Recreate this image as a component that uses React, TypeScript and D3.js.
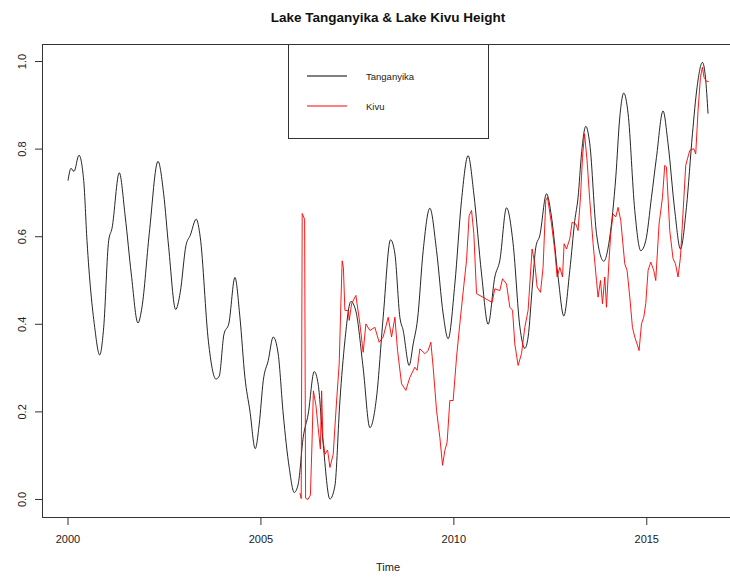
import React from "react";
import * as d3 from "d3";

// Lake Tanganyika (normalised height) — time in decimal years
const tangYears = [
  2000.0, 2000.078, 2000.155, 2000.285, 2000.407, 2000.492, 2000.692, 2000.821, 2000.925, 2001.054,
  2001.14, 2001.329, 2001.484, 2001.64, 2001.813, 2001.917, 2002.106, 2002.332, 2002.479, 2002.609,
  2002.79, 2002.909, 2003.057, 2003.168, 2003.324, 2003.427, 2003.64, 2003.834, 2003.92, 2004.041,
  2004.171, 2004.326, 2004.456, 2004.585, 2004.715, 2004.852, 2004.956, 2005.06, 2005.189, 2005.319,
  2005.448, 2005.578, 2005.733, 2005.863, 2005.966, 2006.096, 2006.225, 2006.381, 2006.484, 2006.614,
  2006.788, 2006.917, 2007.047, 2007.176, 2007.332, 2007.461, 2007.65, 2007.824, 2007.997, 2008.168,
  2008.36, 2008.472, 2008.601, 2008.687, 2008.842, 2008.946, 2009.06, 2009.205, 2009.378, 2009.552,
  2009.723, 2009.852, 2010.026, 2010.199, 2010.37, 2010.518, 2010.718, 2010.889, 2011.062, 2011.192,
  2011.365, 2011.536, 2011.71, 2011.839, 2011.925, 2012.039, 2012.124, 2012.228, 2012.402, 2012.531,
  2012.702, 2012.85, 2013.005, 2013.135, 2013.22, 2013.308, 2013.42, 2013.523, 2013.697, 2013.886,
  2014.041, 2014.197, 2014.301, 2014.404, 2014.516, 2014.689, 2014.845, 2014.974, 2015.122, 2015.251,
  2015.422, 2015.552, 2015.725, 2015.873, 2016.028, 2016.184, 2016.303, 2016.443, 2016.521, 2016.588,
];
const tangValues = [
  0.728, 0.756, 0.749, 0.786, 0.728, 0.591, 0.393, 0.33, 0.393, 0.591,
  0.619, 0.746, 0.645, 0.515, 0.403, 0.439, 0.607, 0.772, 0.698, 0.576,
  0.434, 0.473, 0.58, 0.603, 0.64, 0.599, 0.36, 0.275, 0.282, 0.377,
  0.403, 0.507, 0.416, 0.279, 0.202, 0.116, 0.172, 0.271, 0.317, 0.371,
  0.332, 0.195, 0.073, 0.016, 0.035, 0.142, 0.195, 0.292, 0.263, 0.126,
  0.001, 0.031, 0.225, 0.362, 0.452, 0.43, 0.3, 0.164, 0.234, 0.416,
  0.593, 0.561, 0.416, 0.386, 0.306, 0.355, 0.412, 0.568, 0.665, 0.568,
  0.424, 0.367, 0.492, 0.683, 0.785, 0.698, 0.515, 0.4, 0.508, 0.546,
  0.666, 0.584, 0.395, 0.345, 0.371, 0.492, 0.576, 0.603, 0.698, 0.645,
  0.508, 0.419, 0.523, 0.637, 0.69, 0.789, 0.852, 0.812, 0.607, 0.544,
  0.599, 0.736, 0.873, 0.928, 0.881, 0.66, 0.568, 0.591, 0.69, 0.781,
  0.887, 0.812, 0.66, 0.572, 0.667, 0.835, 0.941, 0.998, 0.964, 0.881,
];

// Lake Kivu (normalised height)
const kivuYears = [
  2006.01, 2006.044, 2006.07, 2006.132, 2006.158, 2006.218, 2006.282, 2006.321, 2006.36, 2006.425,
  2006.484, 2006.541, 2006.573, 2006.606, 2006.658, 2006.728, 2006.788, 2006.873, 2006.961, 2007.028,
  2007.073, 2007.106, 2007.137, 2007.176, 2007.262, 2007.288, 2007.35, 2007.461, 2007.565, 2007.65,
  2007.72, 2007.824, 2007.953, 2008.065, 2008.168, 2008.298, 2008.386, 2008.472, 2008.541, 2008.645,
  2008.756, 2008.86, 2008.99, 2009.049, 2009.119, 2009.249, 2009.334, 2009.404, 2009.464, 2009.552,
  2009.637, 2009.707, 2009.767, 2009.826, 2009.896, 2009.982, 2010.07, 2010.155, 2010.259, 2010.329,
  2010.396, 2010.459, 2010.518, 2010.588, 2010.992, 2011.062, 2011.192, 2011.262, 2011.365, 2011.451,
  2011.521, 2011.58, 2011.666, 2011.754, 2011.839, 2011.925, 2012.028, 2012.098, 2012.158, 2012.246,
  2012.313, 2012.383, 2012.427, 2012.531, 2012.617, 2012.676, 2012.746, 2012.816, 2012.858, 2012.92,
  2013.005, 2013.065, 2013.161, 2013.22, 2013.282, 2013.334, 2013.386, 2013.453, 2013.523, 2013.609,
  2013.697, 2013.738, 2013.801, 2013.852, 2013.912, 2013.956, 2014.016, 2014.067, 2014.127, 2014.197,
  2014.256, 2014.326, 2014.43, 2014.49, 2014.56, 2014.629, 2014.689, 2014.749, 2014.801, 2014.863,
  2014.922, 2014.974, 2015.034, 2015.104, 2015.181, 2015.233, 2015.319, 2015.407, 2015.466, 2015.51,
  2015.596, 2015.681, 2015.744, 2015.811, 2015.873, 2015.933, 2016.01, 2016.114, 2016.218, 2016.269,
  2016.329, 2016.391, 2016.443, 2016.484, 2016.547, 2016.606,
];
const kivuValues = [
  0.015, 0.002, 0.653, 0.64, 0.003, 0.0, 0.01, 0.12, 0.248, 0.215,
  0.164, 0.115, 0.248, 0.14, 0.103, 0.113, 0.073, 0.103, 0.225, 0.309,
  0.45, 0.545, 0.53, 0.432, 0.431, 0.409, 0.447, 0.466, 0.401, 0.336,
  0.401, 0.386, 0.393, 0.359, 0.371, 0.416, 0.371, 0.416, 0.34, 0.264,
  0.249, 0.279, 0.302, 0.295, 0.344, 0.333, 0.34, 0.359, 0.302, 0.203,
  0.142, 0.078, 0.112, 0.131, 0.226, 0.226, 0.325, 0.401, 0.489, 0.546,
  0.648, 0.66, 0.607, 0.47, 0.45, 0.481, 0.477, 0.504, 0.492, 0.439,
  0.432, 0.355, 0.306, 0.333, 0.393, 0.432, 0.572, 0.538, 0.485, 0.473,
  0.53, 0.683, 0.69, 0.629, 0.568, 0.508, 0.53, 0.508, 0.584, 0.572,
  0.595, 0.633, 0.629, 0.614, 0.69, 0.781, 0.835, 0.774, 0.683, 0.584,
  0.5, 0.462, 0.5, 0.447, 0.508, 0.439, 0.538, 0.607, 0.652, 0.645,
  0.667, 0.637, 0.538, 0.523, 0.462, 0.393, 0.371, 0.355, 0.34, 0.401,
  0.416, 0.447, 0.523, 0.542, 0.523, 0.5, 0.629, 0.69, 0.763, 0.759,
  0.614, 0.55, 0.538, 0.508, 0.553, 0.645, 0.763, 0.797, 0.801, 0.789,
  0.888, 0.964, 0.987, 0.964, 0.955, 0.954,
];

const xTicks = [2000, 2005, 2010, 2015];
const yTicks = [0.0, 0.2, 0.4, 0.6, 0.8, 1.0];
const seriesNames = ["Tanganyika", "Kivu"];
const seriesColors = ["#000000", "#ff0000"];

const W = 730;
const H = 577;
const FONT = "'Liberation Sans', Arial, Helvetica, sans-serif";

export default function App() {
  const x = d3.scaleLinear().domain([1999.326, 2017.52]).range([42, 744]);
  const y = d3.scaleLinear().domain([-0.04, 1.04]).range([517, 44]);

  const tang = tangYears.map((t, i) => [t, tangValues[i]] as [number, number]);
  const kivu = kivuYears.map((t, i) => [t, kivuValues[i]] as [number, number]);

  const smooth = d3
    .line<[number, number]>()
    .x((d) => x(d[0]))
    .y((d) => y(d[1]))
    .curve(d3.curveMonotoneX);
  const straight = d3
    .line<[number, number]>()
    .x((d) => x(d[0]))
    .y((d) => y(d[1]));

  const [x0, x1] = x.range();
  const [yb, yt] = y.range();
  const legendX0 = 288;
  const legendX1 = 488;
  const legendY1 = 138;
  const legendRows = [76, 106];

  return (
    <svg
      width={W}
      height={H}
      style={{ position: "absolute", left: 0, top: 0, background: "#fff" }}
      fontFamily={FONT}
    >
      <rect x={0} y={0} width={W} height={H} fill="#fff" />
      <text x={388} y={22} textAnchor="middle" fontSize={13.5} fontWeight="bold" fill="#111">
        Lake Tanganyika &amp; Lake Kivu Height
      </text>

      {/* series */}
      <path d={smooth(tang) ?? ""} fill="none" stroke={seriesColors[0]} strokeWidth={1} strokeOpacity={0.85} />
      <path d={straight(kivu) ?? ""} fill="none" stroke={seriesColors[1]} strokeWidth={1} strokeOpacity={0.9} />

      {/* plot frame */}
      <rect
        x={x0 + 0.5}
        y={yt + 0.5}
        width={x1 - x0}
        height={yb - yt}
        fill="none"
        stroke="#333"
        strokeWidth={1}
      />

      {/* x axis */}
      {xTicks.map((t) => (
        <g key={t}>
          <line x1={x(t)} x2={x(t)} y1={yb} y2={yb + 8} stroke="#333" />
          <text x={x(t)} y={543} textAnchor="middle" fontSize={11} fill="#222">
            {t}
          </text>
        </g>
      ))}
      <text x={388} y={571} textAnchor="middle" fontSize={11} fill="#222">
        Time
      </text>

      {/* y axis */}
      {yTicks.map((v) => (
        <g key={v}>
          <line x1={x0 - 7} x2={x0} y1={y(v)} y2={y(v)} stroke="#333" />
          <text
            transform={`translate(26, ${y(v)}) rotate(-90)`}
            textAnchor="middle"
            fontSize={11}
            fill="#222"
          >
            {v.toFixed(1)}
          </text>
        </g>
      ))}

      {/* legend */}
      <rect
        x={legendX0 + 0.5}
        y={yt + 0.5}
        width={legendX1 - legendX0}
        height={legendY1 - yt}
        fill="#fff"
        stroke="#333"
        strokeWidth={1}
      />
      {seriesNames.map((name, i) => (
        <g key={name}>
          <line x1={307} x2={347} y1={legendRows[i]} y2={legendRows[i]} stroke={seriesColors[i]} strokeWidth={1} />
          <text x={366} y={legendRows[i] + 3.5} fontSize={9.5} fill="#222">
            {name}
          </text>
        </g>
      ))}
    </svg>
  );
}
